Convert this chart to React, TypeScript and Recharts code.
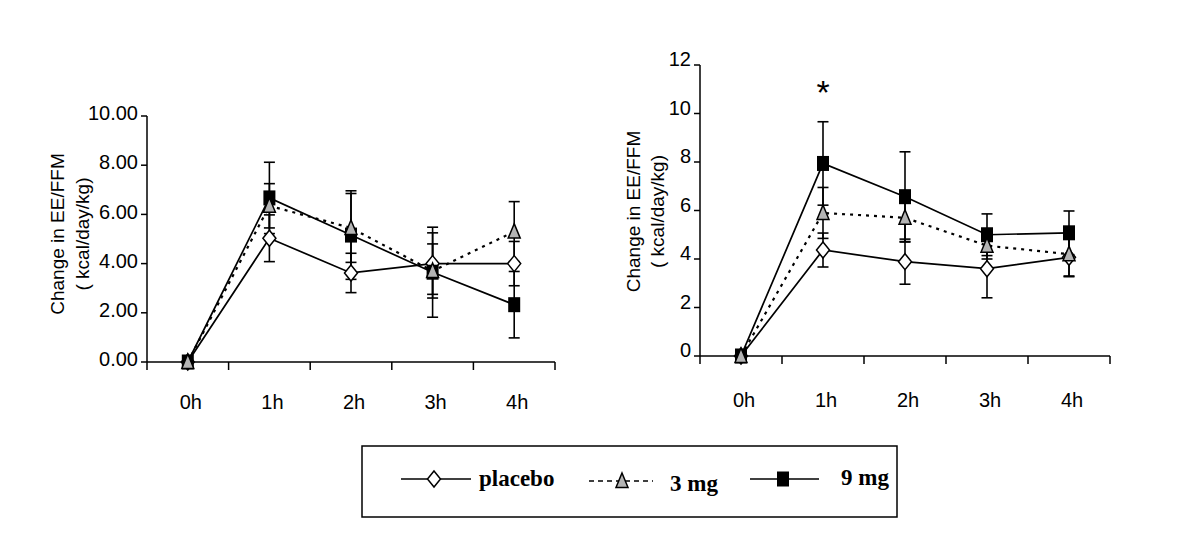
import React from "react";
import { LineChart, Line, XAxis, YAxis, ErrorBar, ReferenceDot } from "recharts";

// time points
const hours = ["0h", "1h", "2h", "3h", "4h"];
// band edges (tick marks) and band centres (labels) on the time axis
const timeTicks = [-0.5, 0, 0.5, 1, 1.5, 2, 2.5, 3, 3.5, 4, 4.5];

// left panel
const placeboA = [0, 5.03, 3.62, 4.0, 4.0];
const placeboAErr = [0, 0.95, 0.8, 1.25, 0.9];
const mg3A = [0, 6.35, 5.45, 3.7, 5.3];
const mg3AErr = [0, 0.9, 1.4, 1.1, 1.22];
const mg9A = [0, 6.67, 5.16, 3.65, 2.33];
const mg9AErr = [0, 1.45, 1.8, 1.83, 1.35];
const yTicksA = [0, 2, 4, 6, 8, 10];

// right panel
const placeboB = [0, 4.37, 3.89, 3.6, 4.07];
const placeboBErr = [0, 0.7, 0.93, 1.2, 0.8];
const mg3B = [0, 5.9, 5.7, 4.55, 4.2];
const mg3BErr = [0, 1.05, 1.0, 0.55, 0.9];
const mg9B = [0, 7.94, 6.57, 5.0, 5.08];
const mg9BErr = [0, 1.72, 1.85, 0.86, 0.9];
const yTicksB = [0, 2, 4, 6, 8, 10, 12];
const starB = { hour: 1, value: 10.9 };

const FONT = "'Liberation Sans', Arial, sans-serif";

function buildRows(p: number[], pe: number[], m3: number[], m3e: number[], m9: number[], m9e: number[]) {
  return hours.map((_, i) => ({
    x: i,
    placebo: p[i],
    placeboErr: pe[i],
    mg3: m3[i],
    mg3Err: m3e[i],
    mg9: m9[i],
    mg9Err: m9e[i],
  }));
}

const rowsA = buildRows(placeboA, placeboAErr, mg3A, mg3AErr, mg9A, mg9AErr);
const rowsB = buildRows(placeboB, placeboBErr, mg3B, mg3BErr, mg9B, mg9BErr);

function Diamond({ cx, cy }: any) {
  if (cx == null || cy == null) return null;
  return (
    <path
      d={`M${cx},${cy - 8} L${cx + 6.5},${cy} L${cx},${cy + 8} L${cx - 6.5},${cy} Z`}
      fill="#fff"
      stroke="#000"
      strokeWidth={1.5}
    />
  );
}

function Triangle({ cx, cy }: any) {
  if (cx == null || cy == null) return null;
  return (
    <path
      d={`M${cx},${cy - 8} L${cx + 6},${cy + 6.5} L${cx - 6},${cy + 6.5} Z`}
      fill="#b4b4b4"
      stroke="#000"
      strokeWidth={1.5}
    />
  );
}

function Square({ cx, cy }: any) {
  if (cx == null || cy == null) return null;
  return <rect x={cx - 6} y={cy - 7.5} width={12} height={15} fill="#000" />;
}

// edges get a tick mark, centres get the hour label
function TimeTick({ x, y, payload, labelDy }: any) {
  const v = payload.value;
  if (Number.isInteger(v)) {
    return (
      <text x={x + 3} y={y + labelDy} textAnchor="middle" fontSize={20} fill="#000" fontFamily={FONT}>
        {hours[v]}
      </text>
    );
  }
  return <line x1={x} x2={x} y1={y} y2={y + 8} stroke="#000" strokeWidth={1.5} />;
}

function AxisTitle({ viewBox, off1, off2, shift }: any) {
  const axisX = viewBox.x + viewBox.width;
  const cy = viewBox.y + viewBox.height / 2 + shift;
  const x1 = axisX - off1;
  const x2 = axisX - off2;
  return (
    <g fontFamily={FONT} fontSize={19} fill="#000">
      <text x={x1} y={cy} textAnchor="middle" dominantBaseline="central" transform={`rotate(-90, ${x1}, ${cy})`}>
        Change in EE/FFM
      </text>
      <text x={x2} y={cy} textAnchor="middle" dominantBaseline="central" transform={`rotate(-90, ${x2}, ${cy})`}>
        ( kcal/day/kg)
      </text>
    </g>
  );
}

function Panel({ rows, yTicks, yFmt, tickDy, labelDy, left, top, width, height, yWidth, off1, off2, shift, star }: any) {
  const yMax = yTicks[yTicks.length - 1];
  return (
    <div style={{ position: "absolute", left, top }}>
      <LineChart width={width} height={height} data={rows} margin={{ top: 16, right: 15, left: 0, bottom: 0 }}>
        <XAxis
          dataKey="x"
          type="number"
          domain={[-0.5, 4.5]}
          ticks={timeTicks}
          interval={0}
          tickSize={0}
          tickMargin={0}
          tickLine={false}
          height={70}
          axisLine={{ stroke: "#000", strokeWidth: 1.5 }}
          tick={<TimeTick labelDy={labelDy} />}
        />
        <YAxis
          type="number"
          domain={[0, yMax]}
          ticks={yTicks}
          interval={0}
          width={yWidth}
          tickSize={6}
          tickMargin={3}
          tickFormatter={yFmt}
          axisLine={{ stroke: "#000", strokeWidth: 1.5 }}
          tickLine={{ stroke: "#000", strokeWidth: 1.5 }}
          tick={{ fontSize: 20, fill: "#000", fontFamily: FONT, dy: tickDy }}
          label={(p: any) => <AxisTitle viewBox={p.viewBox} off1={off1} off2={off2} shift={shift} />}
        />
        <Line
          dataKey="placebo"
          stroke="#000"
          strokeWidth={1.7}
          dot={<Diamond />}
          isAnimationActive={false}
        >
          <ErrorBar dataKey="placeboErr" direction="y" width={5.5} stroke="#000" strokeWidth={1.6} />
        </Line>
        <Line
          dataKey="mg9"
          stroke="#000"
          strokeWidth={1.7}
          dot={<Square />}
          isAnimationActive={false}
        >
          <ErrorBar dataKey="mg9Err" direction="y" width={5.5} stroke="#000" strokeWidth={1.6} />
        </Line>
        <Line
          dataKey="mg3"
          stroke="#000"
          strokeWidth={2.2}
          strokeDasharray="3 5"
          dot={<Triangle />}
          isAnimationActive={false}
        >
          <ErrorBar dataKey="mg3Err" direction="y" width={5.5} stroke="#000" strokeWidth={1.6} />
        </Line>
        {star && (
          <ReferenceDot
            x={star.hour}
            y={star.value}
            r={0}
            fill="none"
            stroke="none"
            label={{ value: "*", position: "center", fontSize: 34, fill: "#000", fontFamily: FONT }}
          />
        )}
      </LineChart>
    </div>
  );
}

function LegendBox() {
  const serif = "'Liberation Serif', 'Times New Roman', serif";
  return (
    <svg style={{ position: "absolute", left: 361, top: 445 }} width={537} height={74}>
      <rect x={1} y={1} width={535} height={71} fill="#fff" stroke="#000" strokeWidth={1.5} />
      <g fontFamily={serif} fontWeight="bold" fontSize={23} fill="#000">
        <line x1={40} x2={110} y1={34} y2={34} stroke="#000" strokeWidth={1.5} />
        <Diamond cx={73} cy={34} />
        <text x={118} y={41}>placebo</text>

        <line x1={228} x2={292} y1={36} y2={36} stroke="#000" strokeWidth={1.5} strokeDasharray="5 4" />
        <Triangle cx={261} cy={36} />
        <text x={309} y={46}>3 mg</text>

        <line x1={389} x2={458} y1={34} y2={34} stroke="#000" strokeWidth={1.5} />
        <Square cx={422} cy={34} />
        <text x={480} y={40}>9 mg</text>
      </g>
    </svg>
  );
}

export default function App() {
  return (
    <div style={{ position: "absolute", left: 0, top: 0, width: 1200, height: 559, background: "#fff", fontFamily: FONT }}>
      <Panel
        rows={rowsA}
        yTicks={yTicksA}
        yFmt={(v: number) => v.toFixed(2)}
        tickDy={-3}
        labelDy={47}
        left={0}
        top={100}
        width={570}
        height={332}
        yWidth={147}
        off1={90}
        off2={65}
        shift={-5}
      />
      <Panel
        rows={rowsB}
        yTicks={yTicksB}
        yFmt={(v: number) => String(v)}
        tickDy={-6}
        labelDy={51}
        left={560}
        top={49}
        width={565}
        height={377}
        yWidth={140}
        off1={67}
        off2={43}
        shift={1}
        star={starB}
      />
      <LegendBox />
    </div>
  );
}
